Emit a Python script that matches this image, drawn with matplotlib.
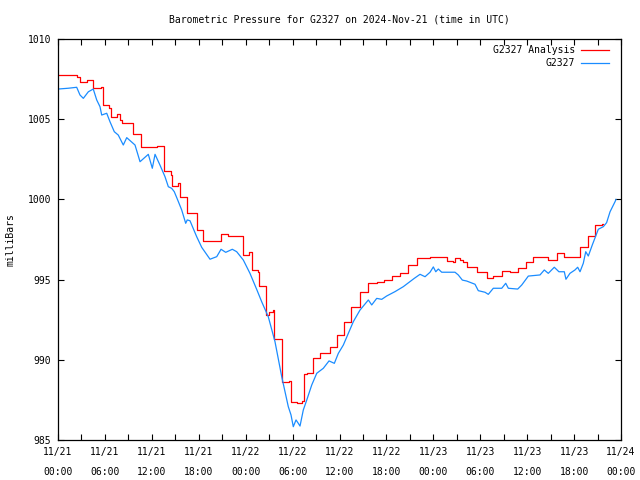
import matplotlib
matplotlib.use("Agg")
import matplotlib.pyplot as plt

# hours after 2024-11-21 00:00 UTC, pressure in mbar
# analysis is hourly-ish, each point is the level from that time on (drawn as steps)
analysis_hours = [0.00, 2.39, 2.81, 2.81, 3.67, 3.67, 4.48, 4.48, 5.50, 5.50, 5.72, 5.72,
                  6.56, 6.56, 6.74, 6.74, 7.42, 7.55, 7.93, 8.15, 9.55, 9.55, 10.61, 10.61,
                  12.41, 12.66, 13.59, 13.59, 14.45, 14.45, 14.62, 14.62, 15.38, 15.38,
                  15.54, 15.54, 16.46, 16.46, 17.74, 17.74, 18.58, 18.58, 20.50, 20.81,
                  21.78, 23.62, 23.72, 24.47, 24.47, 24.77, 24.77, 25.58, 25.74, 26.56,
                  26.56, 27.02, 27.54, 27.66, 28.61, 28.61, 29.58, 29.80, 30.53, 31.17,
                  31.46, 31.81, 32.65, 33.51, 34.79, 35.64, 36.62, 37.47, 38.62,
                  39.69, 40.76, 41.69, 42.67, 43.74, 44.80, 45.91, 47.58, 49.49, 49.75, 50.52,
                  50.77, 51.41, 51.80, 52.31, 53.55, 54.83, 55.67, 56.75, 57.81, 58.79,
                  59.81, 60.79, 62.71, 63.78, 64.75, 66.46, 66.76, 67.74, 68.68, 69.53, 69.70]
analysis_mbar = [1007.74, 1007.63, 1007.63, 1007.34, 1007.34, 1007.44, 1007.44, 1006.96,
                 1006.96, 1007.03, 1007.03, 1005.89, 1005.89, 1005.68, 1005.68, 1005.12,
                 1005.12, 1005.32, 1004.95, 1004.74, 1004.74, 1004.08, 1004.08, 1003.29,
                 1003.29, 1003.33, 1003.33, 1001.79, 1001.79, 1001.52, 1001.52, 1000.84,
                 1000.84, 1001.04, 1001.04, 1000.17, 1000.17, 999.13, 999.13, 998.09,
                 998.09, 997.43, 997.43, 997.82, 997.72, 997.74, 996.53, 996.53, 996.74,
                 996.74, 995.60, 995.47, 994.60, 994.60, 992.79, 992.98, 993.11, 991.28,
                 991.28, 988.63, 988.68, 987.39, 987.29, 987.45, 989.11, 989.20, 990.13,
                 990.44, 990.82, 991.55, 992.38, 993.31, 994.25, 994.77, 994.87,
                 994.95, 995.22, 995.43, 995.91, 996.33, 996.43, 996.43, 996.16, 996.10, 996.37,
                 996.22, 996.12, 995.81, 995.49, 995.08, 995.24, 995.54, 995.45, 995.70,
                 996.12, 996.43, 996.22, 996.64, 996.43, 996.43, 997.05, 997.72, 998.40,
                 998.45, 998.45]

obs_hours = [0.00, 1.32, 2.39, 2.81, 3.24, 3.88, 4.51, 4.95, 5.37, 5.59, 6.23, 6.65, 7.20,
             7.71, 8.35, 8.79, 9.85, 10.49, 11.55, 12.06, 12.41, 13.04, 13.68, 14.11, 14.54,
             14.87, 15.31, 15.82, 16.33, 16.53, 16.88, 17.74, 18.38, 19.44, 20.30, 20.85,
             21.45, 22.29, 22.85, 23.70, 24.55, 25.41, 26.05, 26.89, 27.75, 28.61, 29.45,
             29.80, 30.09, 30.44, 30.73, 30.95, 31.37, 31.81, 32.45, 33.09, 33.93, 34.66,
             35.34, 35.85, 36.49, 37.13, 37.77, 38.62, 39.69, 40.12, 40.76, 41.40, 42.04,
             43.10, 44.16, 45.57, 46.30, 46.94, 47.58, 48.00, 48.31, 48.64, 49.07, 50.77,
             51.19, 51.71, 52.27, 53.33, 53.75, 54.61, 55.03, 55.67, 56.75, 57.26, 57.59,
             58.79, 59.30, 60.15, 61.64, 62.19, 62.70, 63.47, 64.06, 64.75, 64.96, 65.47,
             66.11, 66.46, 66.76, 67.18, 67.49, 67.82, 68.33, 69.10, 69.74, 70.16, 70.60,
             71.24, 71.36]
obs_mbar = [1006.88, 1006.93, 1006.99, 1006.51, 1006.30, 1006.71, 1006.88, 1006.20, 1005.78,
            1005.26, 1005.37, 1004.84, 1004.22, 1004.01, 1003.39, 1003.85, 1003.39, 1002.35,
            1002.81, 1001.94, 1002.81, 1002.14, 1001.42, 1000.79, 1000.69, 1000.48, 999.96,
            999.34, 998.51, 998.72, 998.67, 997.67, 997.01, 996.27, 996.43, 996.89, 996.70,
            996.89, 996.74, 996.22, 995.39, 994.39, 993.62, 992.69, 991.13, 988.95, 987.08,
            986.56, 985.83, 986.25, 986.04, 985.87, 986.87, 987.49, 988.43, 989.16, 989.47,
            989.93, 989.78, 990.40, 990.92, 991.65, 992.38, 993.10, 993.73, 993.42, 993.83,
            993.77, 993.98, 994.25, 994.56, 995.08, 995.33, 995.18, 995.46, 995.79, 995.49,
            995.66, 995.46, 995.46, 995.29, 994.97, 994.91, 994.71, 994.31, 994.21, 994.08,
            994.46, 994.46, 994.77, 994.46, 994.41, 994.66, 995.22, 995.29, 995.60, 995.39,
            995.77, 995.49, 995.49, 995.02, 995.39, 995.60, 995.77, 995.49, 996.02, 996.74,
            996.47, 997.16, 998.14, 998.30, 998.55, 999.23, 999.86, 1000.00]

tick_hours = [0, 3, 6, 9, 12, 15, 18, 21, 24, 27, 30, 33, 36, 39, 42, 45, 48, 51, 54, 57,
              60, 63, 66, 69, 72]
tick_labels = ["11/21\n00:00", "", "11/21\n06:00", "", "11/21\n12:00", "", "11/21\n18:00", "",
               "11/22\n00:00", "", "11/22\n06:00", "", "11/22\n12:00", "", "11/22\n18:00", "",
               "11/23\n00:00", "", "11/23\n06:00", "", "11/23\n12:00", "", "11/23\n18:00", "",
               "11/24\n00:00"]
y_ticks = [985, 990, 995, 1000, 1005, 1010]

red = "#ff0000"
blue = "#1a8cff"

plt.rcParams['font.family'] = ['DejaVu Sans Mono']
plt.rcParams['font.size'] = 7

fig = plt.figure(figsize=(6.4, 4.8), dpi=100)
ax = fig.add_axes([58 / 640, 40 / 480, 563 / 640, 401 / 480])

ax.plot(analysis_hours, analysis_mbar, color=red, lw=0.9, drawstyle="steps-post")
ax.plot(obs_hours, obs_mbar, color=blue, lw=0.9)

ax.set_xlim(0, 72)
ax.set_ylim(985, 1010)
ax.set_xticks(tick_hours)
ax.set_xticklabels(tick_labels)
for lab in ax.get_xticklabels():
    lab.set_linespacing(2.3)
ax.set_yticks(y_ticks)
ax.tick_params(direction="in", length=4, width=0.8, top=True, right=True, pad=5)
for s in ax.spines.values():
    s.set_linewidth(0.9)

# gnuplot style key, text right aligned with sample line after it
ax.text(0.918, 0.972, "G2327 Analysis", transform=ax.transAxes, ha="right", va="center")
ax.plot([0.929, 0.979], [0.972, 0.972], transform=ax.transAxes, color=red, lw=0.9)
ax.text(0.918, 0.940, "G2327", transform=ax.transAxes, ha="right", va="center")
ax.plot([0.929, 0.979], [0.940, 0.940], transform=ax.transAxes, color=blue, lw=0.9)

fig.text(0.53, 0.96, "Barometric Pressure for G2327 on 2024-Nov-21 (time in UTC)",
         ha="center", va="center")
ax.set_ylabel("milliBars", labelpad=9)

fig.savefig("out.png", dpi=100)
